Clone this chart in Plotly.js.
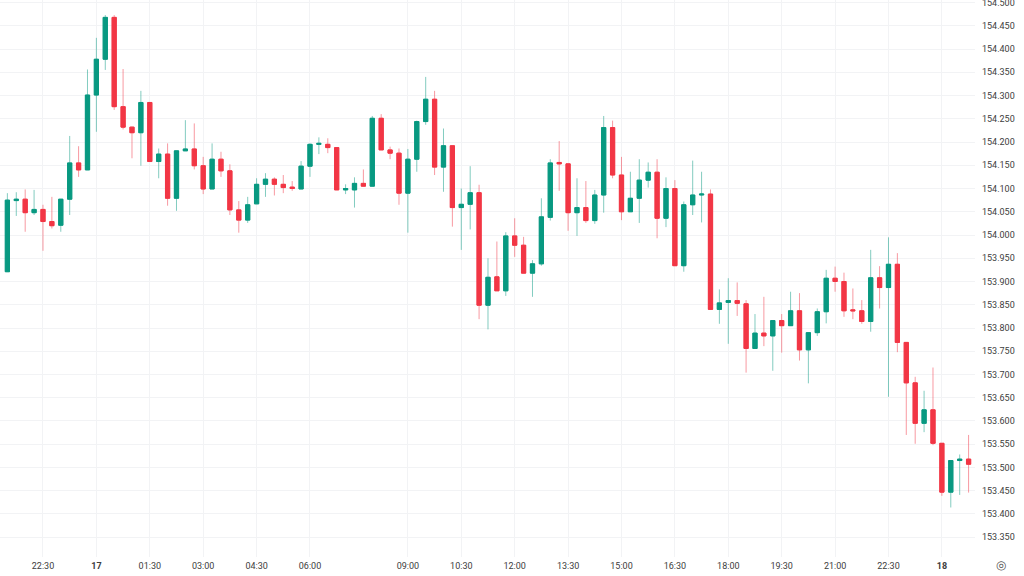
<!DOCTYPE html>
<html>
<head>
<meta charset="utf-8">
<script src="https://cdn.plot.ly/plotly-3.0.1.min.js"></script>
<style>
html,body{margin:0;padding:0;background:#fff;}
#chart{width:1024px;height:576px;}
</style>
</head>
<body>
<div id="chart"></div>
<script>
// 15-minute bars, 16th 21:30 -> 18th 00:45 (one bar missing between 06:00 and 09:00)
const opens = [
153.921,154.074,154.077,154.048,154.055,154.029,154.021,154.077,154.155,154.140,
154.301,154.378,154.468,154.276,154.232,154.220,154.285,154.158,154.174,154.079,
154.181,154.185,154.149,154.099,154.163,154.138,154.054,154.032,154.067,154.109,
154.120,154.109,154.103,154.099,154.148,154.195,154.195,154.188,154.097,154.097,
154.111,154.105,154.251,154.183,154.176,154.090,154.163,154.244,154.292,154.146,
154.192,154.059,154.066,154.091,153.849,153.910,153.880,153.998,153.978,153.918,
153.938,154.038,154.156,154.153,154.048,154.059,154.031,154.086,154.231,154.129,
154.050,154.079,154.118,154.135,154.036,154.100,153.934,154.065,154.086,154.088,
153.840,153.855,153.859,153.852,153.756,153.789,153.783,153.816,153.805,153.837,
153.753,153.790,153.835,153.907,153.900,153.839,153.837,153.814,153.908,153.887,
153.937,153.769,153.682,153.595,153.624,153.552,153.447,153.515,153.518
];
const highs = [
154.090,154.092,154.098,154.097,154.065,154.082,154.077,154.213,154.191,154.356,
154.424,154.473,154.473,154.357,154.233,154.310,154.285,154.186,154.197,154.181,
154.247,154.240,154.168,154.197,154.179,154.152,154.073,154.082,154.122,154.133,
154.124,154.129,154.116,154.159,154.197,154.210,154.208,154.188,154.109,154.124,
154.141,154.256,154.260,154.190,154.186,154.185,154.246,154.340,154.310,154.229,
154.192,154.100,154.148,154.108,153.950,153.986,154.006,154.036,153.996,153.946,
154.079,154.163,154.202,154.153,154.122,154.116,154.097,154.256,154.246,154.168,
154.136,154.163,154.156,154.163,154.124,154.118,154.072,154.160,154.136,154.098,
153.883,153.907,153.898,153.860,153.830,153.867,153.816,153.830,153.878,153.875,
153.790,153.842,153.925,153.932,153.919,153.885,153.860,153.968,153.933,153.995,
153.961,153.769,153.695,153.665,153.715,153.552,153.515,153.528,153.570
];
const lows = [
153.921,154.041,154.007,154.043,153.966,154.014,154.007,154.043,154.125,154.140,
154.222,154.355,154.269,154.227,154.165,154.149,154.158,154.122,154.063,154.052,
154.181,154.141,154.088,154.099,154.125,154.043,154.005,154.026,154.067,154.082,
154.085,154.090,154.095,154.099,154.125,154.174,154.176,154.097,154.088,154.059,
154.105,154.105,154.183,154.163,154.065,154.005,154.136,154.237,154.129,154.093,
154.018,153.968,154.012,153.819,153.797,153.880,153.869,153.953,153.918,153.867,
153.934,154.031,154.095,154.009,153.998,154.026,154.024,154.048,154.122,154.032,
154.050,154.026,154.102,153.993,154.017,153.934,153.921,154.043,154.027,153.839,
153.809,153.766,153.826,153.704,153.756,153.761,153.708,153.747,153.805,153.730,
153.681,153.783,153.810,153.878,153.824,153.819,153.809,153.792,153.842,153.652,
153.748,153.570,153.551,153.576,153.548,153.439,153.414,153.441,153.446
];
const closes = [
154.075,154.077,154.048,154.055,154.029,154.020,154.077,154.155,154.140,154.301,
154.378,154.468,154.276,154.232,154.220,154.285,154.158,154.174,154.079,154.181,
154.185,154.149,154.099,154.163,154.138,154.054,154.032,154.065,154.109,154.120,
154.109,154.102,154.100,154.148,154.195,154.197,154.188,154.097,154.100,154.111,
154.105,154.251,154.183,154.176,154.090,154.163,154.244,154.292,154.146,154.192,
154.059,154.066,154.091,153.849,153.909,153.880,153.998,153.978,153.918,153.938,
154.039,154.155,154.153,154.048,154.059,154.031,154.086,154.231,154.129,154.050,
154.079,154.118,154.135,154.036,154.100,153.934,154.065,154.086,154.088,153.840,
153.854,153.859,153.853,153.756,153.789,153.783,153.816,153.805,153.837,153.753,
153.790,153.835,153.907,153.900,153.837,153.837,153.814,153.908,153.887,153.937,
153.769,153.682,153.595,153.624,153.552,153.447,153.515,153.518,153.507
];
// tick labels and the bar index where each sits
const tickIndex = [4,10,16,22,28,34,45,51,57,63,69,75,81,87,93,99,105];
const tickText  = ['22:30','<b>17</b>','01:30','03:00','04:30','06:00','09:00','10:30',
                   '12:00','13:30','15:00','16:30','18:00','19:30','21:00','22:30','<b>18</b>'];

const UP = '#089981', DOWN = '#F23645';
const UP_WICK = 'rgba(8,153,129,0.5)', DOWN_WICK = 'rgba(242,54,69,0.5)';

const xs = opens.map((_, i) => i);
const bodyHigh = opens.map((o, i) => Math.max(o, closes[i]));
const bodyLow  = opens.map((o, i) => Math.min(o, closes[i]));

const wicks = {
  type: 'candlestick', x: xs, open: opens, high: highs, low: lows, close: closes,
  increasing: {line: {color: UP_WICK, width: 1}, fillcolor: UP_WICK},
  decreasing: {line: {color: DOWN_WICK, width: 1}, fillcolor: DOWN_WICK},
  hoverinfo: 'skip', showlegend: false
};
const bodies = {
  type: 'candlestick', x: xs, open: opens, high: bodyHigh, low: bodyLow, close: closes,
  increasing: {line: {color: UP, width: 1}, fillcolor: UP},
  decreasing: {line: {color: DOWN, width: 1}, fillcolor: DOWN},
  showlegend: false
};

const gridC = '#f2f3f5';
const layout = {
  width: 1024, height: 576,
  margin: {l: 0, r: 49, t: 0, b: 19, pad: 0},
  paper_bgcolor: '#ffffff', plot_bgcolor: '#ffffff',
  showlegend: false,
  boxgap: 0.32,
  font: {family: 'Roboto, "Liberation Sans", sans-serif', size: 9, color: '#3d3d3d'},
  xaxis: {
    range: [-0.83, 108.72],
    tickmode: 'array', tickvals: tickIndex, ticktext: tickText,
    showgrid: true, gridcolor: gridC, gridwidth: 1,
    zeroline: false, showline: false, ticks: '',
    ticklabelstandoff: 2,
    rangeslider: {visible: false}, fixedrange: true,
    tickfont: {size: 9, color: '#3d3d3d'}
  },
  yaxis: {
    side: 'right',
    range: [153.3075, 154.5054],
    tickmode: 'linear', tick0: 153.35, dtick: 0.05, tickformat: '.3f',
    showgrid: true, gridcolor: gridC, gridwidth: 1,
    zeroline: false, showline: false, ticks: '',
    ticklabelstandoff: 6, ticklabeloverflow: 'allow', fixedrange: true,
    tickfont: {size: 9, color: '#3d3d3d'}
  },
  annotations: [{
    xref: 'paper', yref: 'paper', x: 1.027, y: -0.015,
    text: '◎', showarrow: false, xanchor: 'center', yanchor: 'middle',
    font: {size: 12, color: '#555'}
  }]
};

Plotly.newPlot('chart', [wicks, bodies], layout, {displayModeBar: false, staticPlot: true});
</script>
</body>
</html>
